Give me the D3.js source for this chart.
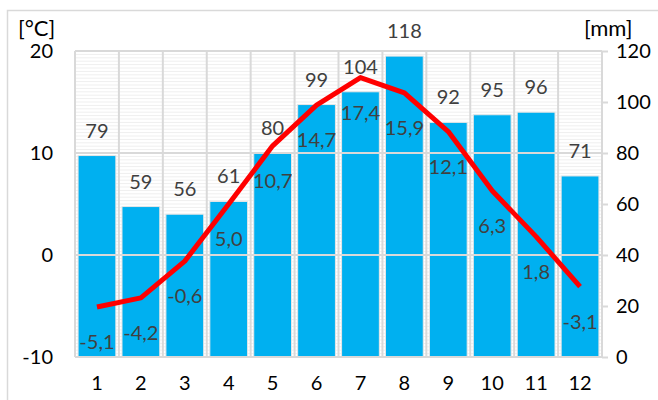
<!DOCTYPE html>
<html>
<head>
<meta charset="utf-8">
<script src="https://cdn.jsdelivr.net/npm/d3@7"></script>
<style>
  body { margin: 0; background: #fff; }
  svg text { font-family: Lato, "Open Sans", sans-serif; }
</style>
</head>
<body>
<svg id="chart" width="658" height="400"></svg>
<script>
var months = [1, 2, 3, 4, 5, 6, 7, 8, 9, 10, 11, 12];
var precipitation = [79, 59, 56, 61, 80, 99, 104, 118, 92, 95, 96, 71];
var temperature = [-5.1, -4.2, -0.6, 5.0, 10.7, 14.7, 17.4, 15.9, 12.1, 6.3, 1.8, -3.1];
var tempTicks = [-10, 0, 10, 20];
var precTicks = [0, 20, 40, 60, 80, 100, 120];

var margin = {left: 75, right: 56, top: 51, bottom: 43},
    width = 658, height = 400;

var svg = d3.select("#chart");

// outer chart border
svg.append("rect")
   .attr("x", 7.5).attr("y", 10.5)
   .attr("width", 660).attr("height", 400)
   .attr("fill", "none").attr("stroke", "#d9d9d9").attr("stroke-width", 1.5);

var x = d3.scaleBand()
          .domain(months)
          .range([margin.left, width - margin.right])
          .paddingInner(0.14).paddingOuter(0.07);

var band = d3.scaleBand()
             .domain(months)
             .range([margin.left, width - margin.right]);

var yT = d3.scaleLinear().domain([-10, 20]).range([height - margin.bottom, margin.top]);
var yP = d3.scaleLinear().domain([0, 120]).range([height - margin.bottom, margin.top]);

var plain = function(d) { return String(d); };

var plot = svg.append("g");

// minor gridlines
plot.selectAll(".minor")
    .data(d3.range(1, 90))
    .enter().append("line")
    .attr("x1", margin.left).attr("x2", width - margin.right)
    .attr("y1", function(d) { return yT(-10 + d / 3); })
    .attr("y2", function(d) { return yT(-10 + d / 3); })
    .attr("stroke", "#efefef").attr("stroke-width", 1);

// bars
plot.selectAll(".bar")
    .data(precipitation)
    .enter().append("rect")
    .attr("x", function(d, i) { return x(months[i]); })
    .attr("y", function(d) { return yP(d); })
    .attr("width", x.bandwidth())
    .attr("height", function(d) { return yP(0) - yP(d); })
    .attr("fill", "#00b0f0")
    .attr("stroke", "#e6e6e6").attr("stroke-width", 1);

// major gridlines
plot.selectAll(".hgrid")
    .data(tempTicks)
    .enter().append("line")
    .attr("x1", margin.left).attr("x2", width - margin.right)
    .attr("y1", function(d) { return yT(d); })
    .attr("y2", function(d) { return yT(d); })
    .attr("stroke", "#d9d9d9").attr("stroke-width", 2);

plot.selectAll(".vgrid")
    .data(months.concat([13]))
    .enter().append("line")
    .attr("x1", function(d) { return d > 12 ? width - margin.right : band(d); })
    .attr("x2", function(d) { return d > 12 ? width - margin.right : band(d); })
    .attr("y1", yT(20)).attr("y2", yT(-10))
    .attr("stroke", "#d9d9d9").attr("stroke-width", 2);

// right axis
var rAxis = d3.axisRight(yP).tickValues(precTicks).tickSize(6).tickFormat(plain);
var rg = svg.append("g")
            .attr("transform", "translate(" + (width - margin.right) + ",0)")
            .call(rAxis);
rg.select(".domain").remove();
rg.selectAll("line").attr("stroke", "#d9d9d9").attr("stroke-width", 2);
rg.selectAll("text").attr("x", 14).attr("font-size", 20).attr("fill", "#000")
  .attr("font-family", "Lato, 'Open Sans', sans-serif");

// left axis
var lAxis = d3.axisLeft(yT).tickValues(tempTicks).tickSize(0).tickFormat(plain);
var lg = svg.append("g")
            .attr("transform", "translate(" + margin.left + ",0)")
            .call(lAxis);
lg.select(".domain").remove();
lg.selectAll("text").attr("x", -22).attr("font-size", 20).attr("fill", "#000")
  .attr("font-family", "Lato, 'Open Sans', sans-serif");

// bottom axis
var bAxis = d3.axisBottom(band).tickSize(0);
var bg = svg.append("g")
            .attr("transform", "translate(0," + (height - margin.bottom) + ")")
            .call(bAxis);
bg.select(".domain").remove();
bg.selectAll("text").attr("y", 19).attr("font-size", 20).attr("fill", "#000")
  .attr("font-family", "Lato, 'Open Sans', sans-serif");

// axis titles
svg.append("text").attr("x", 18).attr("y", 36).attr("font-size", 22).text("[°C]");
svg.append("text").attr("x", 584).attr("y", 36).attr("font-size", 22).text("[mm]");

// temperature line
var line = d3.line()
             .x(function(d, i) { return band(months[i]) + band.bandwidth() / 2; })
             .y(function(d) { return yT(d); });

svg.append("path")
   .datum(temperature)
   .attr("d", line)
   .attr("fill", "none")
   .attr("stroke", "#ff0000")
   .attr("stroke-width", 5)
   .attr("stroke-linejoin", "round");

// precipitation labels
svg.selectAll(".plabel")
   .data(precipitation)
   .enter().append("text")
   .attr("x", function(d, i) { return band(months[i]) + band.bandwidth() / 2; })
   .attr("y", function(d) { return yP(d) - 18; })
   .attr("text-anchor", "middle")
   .attr("font-size", 20)
   .attr("fill", "#404040")
   .text(function(d) { return d; });

// temperature labels
svg.selectAll(".tlabel")
   .data(temperature)
   .enter().append("text")
   .attr("x", function(d, i) { return band(months[i]) + band.bandwidth() / 2; })
   .attr("y", function(d) { return yT(d) + 42; })
   .attr("text-anchor", "middle")
   .attr("font-size", 20)
   .attr("fill", "#404040")
   .text(function(d) { return d.toFixed(1).replace(".", ","); });
</script>
</body>
</html>
